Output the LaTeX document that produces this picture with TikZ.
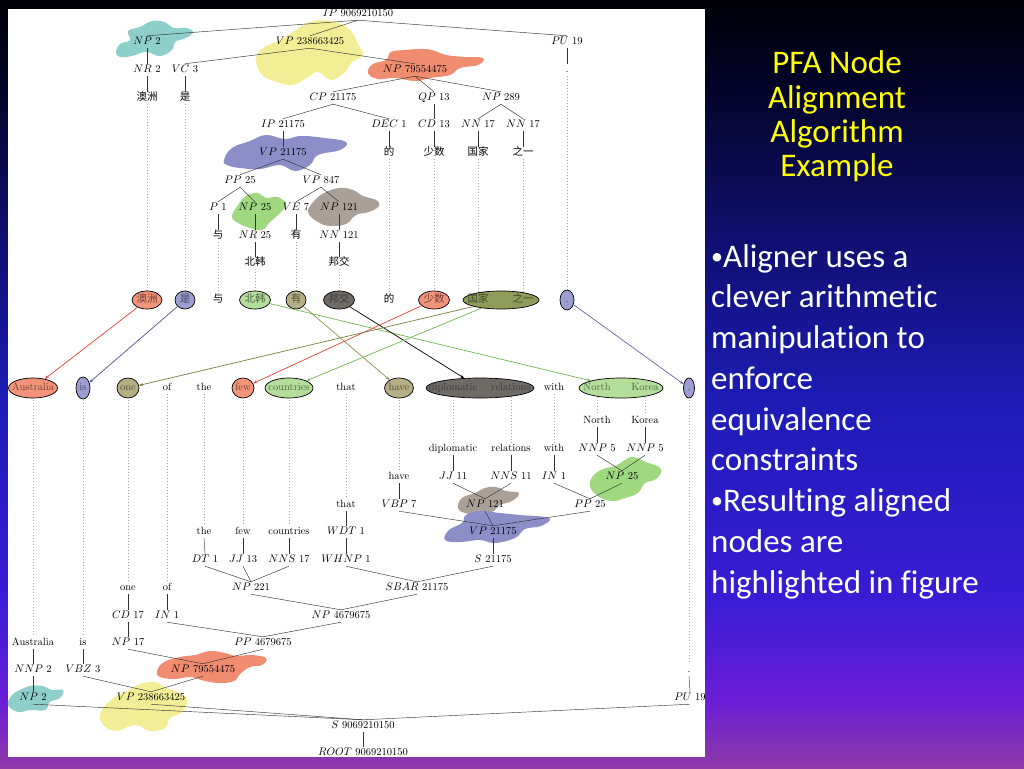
\documentclass[tikz,border=0pt]{standalone}
\usepackage{fontspec}
\newfontfamily\cjk{Noto Sans CJK SC}
\newfontfamily\calfont[Ligatures=NoCommon]{Carlito}
\usetikzlibrary{shapes.geometric,arrows.meta}
\definecolor{g0}{HTML}{8E3AA8}
\definecolor{g1}{HTML}{6A1ED5}
\definecolor{g2}{HTML}{3A1CD5}
\definecolor{g3}{HTML}{1C1CB5}
\definecolor{g4}{HTML}{101075}
\definecolor{g5}{HTML}{05052E}
\definecolor{g6}{HTML}{000008}
\pgfdeclareverticalshading{bgsh}{100bp}{color(0bp)=(g0); color(25bp)=(g0); color(29.4bp)=(g1); color(36bp)=(g2); color(49bp)=(g3); color(58.7bp)=(g4); color(68.5bp)=(g5); color(75bp)=(g6); color(100bp)=(g6)}
\definecolor{cSal}{HTML}{F3937A}
\definecolor{cPur}{HTML}{9D9DD2}
\definecolor{cGrn}{HTML}{B4DE9C}
\definecolor{cTan}{HTML}{B6AF86}
\definecolor{cDrk}{HTML}{6E6A66}
\definecolor{cOlv}{HTML}{8F9C5C}
\definecolor{bTeal}{HTML}{8FCFCB}
\definecolor{bYel}{HTML}{F3EE96}
\definecolor{bSal}{HTML}{F08C70}
\definecolor{bPur}{HTML}{8C8EC8}
\definecolor{bGrn}{HTML}{A0D880}
\definecolor{bTau}{HTML}{ABA097}
\definecolor{rRed}{HTML}{E2453A}
\definecolor{rBlu}{HTML}{52528E}
\definecolor{rGrn}{HTML}{72B852}
\definecolor{rOlv}{HTML}{8A9050}
\definecolor{rBrn}{HTML}{7C7C3C}
\definecolor{rPur}{HTML}{6464A8}
\definecolor{ttl}{HTML}{FFFF00}
\pgfdeclarelayer{back}
\pgfdeclarelayer{mid}
\pgfsetlayers{back,mid,main}
\newcommand\tedge[2]{\draw[edg] (#1.south) -- (#2.north);}
\newcommand\dotln[2]{\draw[dotst] (#1.south) -- (#2.north);}
\newcommand\bulsym{\raisebox{2.5pt}{\fontsize{24}{24}\selectfont •}}
\begin{document}
\begin{tikzpicture}[x=1pt,y=-1pt,
  t/.style={inner sep=1.5pt, text height=7pt, text depth=2pt, font=\fontsize{10.5}{12}\selectfont},
  c/.style={inner sep=1.5pt, text height=7pt, text depth=2pt, font=\cjk\fontsize{10.5}{12}\selectfont},
  al/.style={ellipse, draw=black, line width=0.7pt, inner sep=0pt},
  edg/.style={draw=black!80, line width=0.45pt},
  dotst/.style={draw=black!35, line width=0.5pt, dash pattern=on 1pt off 2pt},
  arr/.style={line width=0.7pt, -{Stealth[length=4pt,width=3pt]}},
  blob/.style={smooth cycle, tension=0.7},
  ttlst/.style={anchor=base, text=ttl, font=\calfont\fontsize{33}{34}\selectfont},
  bul/.style={anchor=base west, inner sep=0pt, text=white, font=\calfont\fontsize{33}{34}\selectfont}]
\useasboundingbox (0,0) rectangle (1024,768);
\begin{pgfonlayer}{back}
\shade[shading=bgsh] (0,0) rectangle (1024,768);
\fill[white] (8,9) rectangle (705,757);
\end{pgfonlayer}

% ---------- blobs ----------
\begin{pgfonlayer}{mid}
\fill[bTeal] plot[blob] coordinates {(116,52) (120,44) (130,40) (128,31) (140,27) (152,21) (164,22) (174,28) (186,28) (193,32) (186,38) (175,42) (172,50) (160,56) (146,52) (132,56) (120,57)};
\fill[bYel] plot[blob] coordinates {(262,75) (256,60) (263,48) (280,40) (296,30) (313,21) (335,22) (350,30) (358,44) (363,55) (352,62) (345,72) (331,80) (318,72) (305,79) (292,85) (277,82)};
\fill[bSal] plot[blob] coordinates {(368,73) (373,64) (386,60) (391,52) (405,50) (420,49) (432,50) (446,55) (466,57) (483,58) (478,65) (460,68) (450,75) (430,78) (415,81) (395,78) (378,79)};
\fill[bPur] plot[blob] coordinates {(224,160) (232,148) (250,141) (266,135) (285,139) (301,136) (325,138) (346,142) (340,150) (318,155) (310,165) (295,171) (280,165) (260,169) (240,168) (227,165)};
\fill[bGrn] plot[blob] coordinates {(232,217) (238,205) (246,196) (258,193) (266,198) (278,197) (286,205) (278,215) (270,222) (262,230) (250,228) (240,224)};
\fill[bTau] plot[blob] coordinates {(308,212) (315,200) (326,192) (340,188) (353,190) (363,196) (376,200) (379,206) (369,212) (356,215) (346,224) (330,226) (318,222)};
\fill[bGrn] plot[blob] coordinates {(590,486) (593,476) (603,469) (615,466) (625,460) (633,457) (646,462) (661,469) (656,479) (645,483) (638,493) (625,498) (612,501) (598,496)};
\fill[bTau] plot[blob] coordinates {(458,508) (462,498) (475,493) (485,488) (496,487) (506,491) (519,493) (512,501) (500,505) (492,512) (478,514) (465,513)};
\fill[bPur] plot[blob] coordinates {(445,540) (449,530) (462,523) (466,515) (480,511) (500,513) (520,515) (549,518) (541,526) (525,529) (515,538) (495,543) (480,540) (460,542)};
\fill[bSal] plot[blob] coordinates {(157,671) (164,662) (180,657) (195,655) (210,651) (225,653) (236,656) (251,655) (266,658) (262,665) (250,667) (240,674) (234,681) (220,683) (205,681) (190,677) (175,679) (160,677)};
\fill[bTeal] plot[blob] coordinates {(8,705) (12,695) (20,690) (30,686) (42,686) (52,690) (63,690) (60,698) (50,702) (45,710) (30,710) (18,712)};
\fill[bYel] plot[blob] coordinates {(101,712) (110,701) (119,695) (129,690) (140,684) (155,682) (166,688) (178,692) (187,700) (182,712) (170,718) (165,728) (150,731) (135,725) (115,731) (102,723)};
\end{pgfonlayer}

\begin{scope}
\clip (8,9) rectangle (705,757);
% ---------- Chinese tree ----------
\node[t] (zIP) at (358,14) {$IP$ 9069210150};
\node[t] (zNP2) at (147,42) {$NP$ 2};
\node[t] (zVP) at (310,42) {$VP$ 238663425};
\node[t] (zPU) at (567,42) {$PU$ 19};
\node[t] (zNR2) at (147,70) {$NR$ 2};
\node[t] (zVC) at (185,70) {$VC$ 3};
\node[t] (zNPb) at (415,70) {$NP$ 79554475};
\node[t] (zdot) at (567,70) {.};
\node[c] (zw1) at (147,98) {澳洲};
\node[c] (zw2) at (185,98) {是};
\node[t] (zCP) at (333,98) {$CP$ 21175};
\node[t] (zQP) at (434,98) {$QP$ 13};
\node[t] (zNP289) at (501,98) {$NP$ 289};
\node[t] (zIPb) at (283,125) {$IP$ 21175};
\node[t] (zDEC) at (389,125) {$DEC$ 1};
\node[t] (zCD) at (434,125) {$CD$ 13};
\node[t] (zNNa) at (478,125) {$NN$ 17};
\node[t] (zNNb) at (523,125) {$NN$ 17};
\node[t] (zVPb) at (283,153) {$VP$ 21175};
\node[c] (zw7) at (389,153) {的};
\node[c] (zw8) at (434,153) {少数};
\node[c] (zw9) at (478,153) {国家};
\node[c] (zw10) at (523,153) {之一};
\node[t] (zPP) at (240,181) {$PP$ 25};
\node[t] (zVPc) at (321,181) {$VP$ 847};
\node[t] (zP1) at (218,208) {$P$ 1};
\node[t] (zNP25) at (255,208) {$NP$ 25};
\node[t] (zVE) at (296,208) {$VE$ 7};
\node[t] (zNP121) at (339,208) {$NP$ 121};
\node[c] (zw3) at (218,236) {与};
\node[t] (zNR25) at (255,236) {$NR$ 25};
\node[c] (zw5) at (296,236) {有};
\node[t] (zNN121) at (339,236) {$NN$ 121};
\node[c] (zw4) at (255,263) {北韩};
\node[c] (zw6) at (339,263) {邦交};

\tedge{zIP}{zNP2} \tedge{zIP}{zVP} \tedge{zIP}{zPU}
\tedge{zNP2}{zNR2} \tedge{zVP}{zVC} \tedge{zVP}{zNPb} \tedge{zPU}{zdot}
\tedge{zNR2}{zw1} \tedge{zVC}{zw2}
\tedge{zNPb}{zCP} \tedge{zNPb}{zQP} \tedge{zNPb}{zNP289}
\tedge{zCP}{zIPb} \tedge{zCP}{zDEC} \tedge{zQP}{zCD} \tedge{zNP289}{zNNa} \tedge{zNP289}{zNNb}
\tedge{zIPb}{zVPb} \tedge{zDEC}{zw7} \tedge{zCD}{zw8} \tedge{zNNa}{zw9} \tedge{zNNb}{zw10}
\tedge{zVPb}{zPP} \tedge{zVPb}{zVPc}
\tedge{zPP}{zP1} \tedge{zPP}{zNP25} \tedge{zVPc}{zVE} \tedge{zVPc}{zNP121}
\tedge{zP1}{zw3} \tedge{zNP25}{zNR25} \tedge{zVE}{zw5} \tedge{zNP121}{zNN121}
\tedge{zNR25}{zw4} \tedge{zNN121}{zw6}

% ---------- alignment rows ----------
\node[al, fill=cSal, minimum width=30pt, minimum height=18pt] (a1) at (147,300) {};
\node[al, fill=cPur, minimum width=20pt, minimum height=18pt] (a2) at (185,300) {};
\node[al, fill=cGrn, minimum width=31pt, minimum height=18pt] (a4) at (255,300) {};
\node[al, fill=cTan, minimum width=20pt, minimum height=18pt] (a5) at (296,300) {};
\node[al, fill=cDrk, minimum width=31pt, minimum height=18pt] (a6) at (339,300) {};
\node[al, fill=cSal, minimum width=31pt, minimum height=18pt] (a8) at (434,300) {};
\node[al, fill=cOlv, minimum width=76pt, minimum height=18pt] (a9) at (501,300) {};
\node[al, fill=cPur, minimum width=14pt, minimum height=20pt] (a10) at (567,300) {};
\node[c, text=cSal!45!black] (a1t) at (147,300) {澳洲};
\node[c, text=cPur!45!black] (a2t) at (185,300) {是};
\node[c] (a3) at (218,300) {与};
\node[c, text=cGrn!45!black] (a4t) at (255,300) {北韩};
\node[c, text=cTan!45!black] (a5t) at (296,300) {有};
\node[c, text=cDrk!55!black] (a6t) at (339,300) {邦交};
\node[c] (a7) at (389,300) {的};
\node[c, text=cSal!45!black] (a8t) at (434,300) {少数};
\node[c, text=cOlv!45!black] (a9a) at (478,300) {国家};
\node[c, text=cOlv!45!black] (a9b) at (523,300) {之一};
\node[t, text=cPur!45!black] (a10t) at (567,300) {.};

\node[al, fill=cSal, minimum width=49pt, minimum height=20pt] (e1) at (33,388) {};
\node[al, fill=cPur, minimum width=14pt, minimum height=22pt] (e2) at (83,388) {};
\node[al, fill=cTan, minimum width=22pt, minimum height=20pt] (e3) at (128,388) {};
\node[al, fill=cSal, minimum width=22pt, minimum height=20pt] (e6) at (243,388) {};
\node[al, fill=cGrn, minimum width=48pt, minimum height=20pt] (e7) at (289,388) {};
\node[al, fill=cTan, minimum width=29pt, minimum height=20pt] (e9) at (399,388) {};
\node[al, fill=cDrk, minimum width=108pt, minimum height=20pt] (e10) at (480,388) {};
\node[al, fill=cGrn, minimum width=84pt, minimum height=20pt] (e12) at (621,388) {};
\node[al, fill=cPur, minimum width=11pt, minimum height=20pt] (e13) at (689,388) {};
\node[t, text=cSal!45!black] (e1t) at (33,388) {Australia};
\node[t, text=cPur!45!black] (e2t) at (83,388) {is};
\node[t, text=cTan!45!black] (e3t) at (128,388) {one};
\node[t] (e4) at (167,388) {of};
\node[t] (e5) at (204,388) {the};
\node[t, text=cSal!45!black] (e6t) at (243,388) {few};
\node[t, text=cGrn!45!black] (e7t) at (289,388) {countries};
\node[t] (e8) at (346,388) {that};
\node[t, text=cTan!45!black] (e9t) at (399,388) {have};
\node[t, text=cDrk!55!black] (e10a) at (453,388) {diplomatic};
\node[t, text=cDrk!55!black] (e10b) at (511,388) {relations};
\node[t] (e11) at (554,388) {with};
\node[t, text=cGrn!45!black] (e12a) at (597,388) {North};
\node[t, text=cGrn!45!black] (e12b) at (645,388) {Korea};
\node[t, text=cPur!45!black] (e13t) at (689,388) {.};

\draw[arr, rRed] (a1) -- (e1);
\draw[arr, rBlu] (a2) -- (e2);
\draw[arr, rGrn] (a4) -- (e12);
\draw[arr, rOlv] (a5) -- (e9);
\draw[arr, black] (a6) -- (e10);
\draw[arr, rRed] (a8) -- (e6);
\draw[arr, rBrn] (a9) -- (e3);
\draw[arr, rGrn] (a9) -- (e7);
\draw[arr, rPur] (a10) -- (e13);

% ---------- English tree ----------
\node[t] (bNorth) at (597,421) {North};
\node[t] (bKorea) at (645,421) {Korea};
\node[t] (bdipl) at (453,449) {diplomatic};
\node[t] (brel) at (511,449) {relations};
\node[t] (bwith) at (554,449) {with};
\node[t] (bNNPa) at (597,449) {$NNP$ 5};
\node[t] (bNNPb) at (645,449) {$NNP$ 5};
\node[t] (bhave) at (399,477) {have};
\node[t] (bJJa) at (453,477) {$JJ$ 11};
\node[t] (bNNSa) at (511,477) {$NNS$ 11};
\node[t] (bINa) at (554,477) {$IN$ 1};
\node[t] (bNP25) at (622,477) {$NP$ 25};
\node[t] (bthat) at (346,505) {that};
\node[t] (bVBP) at (399,505) {$VBP$ 7};
\node[t] (bNP121) at (485,505) {$NP$ 121};
\node[t] (bPP25) at (590,505) {$PP$ 25};
\node[t] (bthe) at (204,532) {the};
\node[t] (bfew) at (243,532) {few};
\node[t] (bcountries) at (289,532) {countries};
\node[t] (bWDT) at (346,532) {$WDT$ 1};
\node[t] (bVP) at (493,532) {$VP$ 21175};
\node[t] (bDT) at (205,560) {$DT$ 1};
\node[t] (bJJb) at (243,560) {$JJ$ 13};
\node[t] (bNNSb) at (289,560) {$NNS$ 17};
\node[t] (bWHNP) at (346,560) {$WHNP$ 1};
\node[t] (bS) at (493,560) {$S$ 21175};
\node[t] (bone) at (128,588) {one};
\node[t] (bof) at (167,588) {of};
\node[t] (bNP221) at (251,588) {$NP$ 221};
\node[t] (bSBAR) at (417,588) {$SBAR$ 21175};
\node[t] (bCD) at (128,616) {$CD$ 17};
\node[t] (bINb) at (167,616) {$IN$ 1};
\node[t] (bNPc) at (341,616) {$NP$ 4679675};
\node[t] (bAus) at (33,643) {Australia};
\node[t] (bis) at (83,643) {is};
\node[t] (bNP17) at (128,643) {$NP$ 17};
\node[t] (bPPc) at (263,643) {$PP$ 4679675};
\node[t] (bNNP) at (33,670) {$NNP$ 2};
\node[t] (bVBZ) at (83,670) {$VBZ$ 3};
\node[t] (bNPd) at (203,670) {$NP$ 79554475};
\node[t] (bdot) at (689,670) {.};
\node[t] (bNP2) at (33,698) {$NP$ 2};
\node[t] (bVPd) at (151,698) {$VP$ 238663425};
\node[t] (bPU) at (690,698) {$PU$ 19};
\node[t] (bSr) at (363,726) {$S$ 9069210150};
\node[t] (bROOT) at (363,753) {$ROOT$ 9069210150};

\tedge{bNorth}{bNNPa} \tedge{bKorea}{bNNPb}
\tedge{bdipl}{bJJa} \tedge{brel}{bNNSa} \tedge{bwith}{bINa}
\tedge{bNNPa}{bNP25} \tedge{bNNPb}{bNP25}
\tedge{bhave}{bVBP} \tedge{bJJa}{bNP121} \tedge{bNNSa}{bNP121}
\tedge{bINa}{bPP25} \tedge{bNP25}{bPP25}
\tedge{bthat}{bWDT}
\tedge{bVBP}{bVP} \tedge{bNP121}{bVP} \tedge{bPP25}{bVP}
\tedge{bthe}{bDT} \tedge{bfew}{bJJb} \tedge{bcountries}{bNNSb} \tedge{bWDT}{bWHNP} \tedge{bVP}{bS}
\tedge{bDT}{bNP221} \tedge{bJJb}{bNP221} \tedge{bNNSb}{bNP221}
\tedge{bWHNP}{bSBAR} \tedge{bS}{bSBAR}
\tedge{bone}{bCD} \tedge{bof}{bINb}
\tedge{bNP221}{bNPc} \tedge{bSBAR}{bNPc}
\tedge{bCD}{bNP17} \tedge{bINb}{bPPc} \tedge{bNPc}{bPPc}
\tedge{bAus}{bNNP} \tedge{bis}{bVBZ}
\tedge{bNP17}{bNPd} \tedge{bPPc}{bNPd}
\tedge{bNNP}{bNP2} \tedge{bVBZ}{bVPd} \tedge{bNPd}{bVPd} \tedge{bdot}{bPU}
\tedge{bNP2}{bSr} \tedge{bVPd}{bSr} \tedge{bPU}{bSr}
\tedge{bSr}{bROOT}
\end{scope}

% ---------- dotted word links ----------
\begin{pgfonlayer}{mid}
\dotln{zw1}{a1t} \dotln{zw2}{a2t} \dotln{zw3}{a3} \dotln{zw4}{a4t}
\dotln{zw5}{a5t} \dotln{zw6}{a6t} \dotln{zw7}{a7} \dotln{zw8}{a8t}
\dotln{zw9}{a9a} \dotln{zw10}{a9b} \dotln{zdot}{a10t}
\dotln{e1t}{bAus} \dotln{e2t}{bis} \dotln{e3t}{bone} \dotln{e4}{bof}
\dotln{e5}{bthe} \dotln{e6t}{bfew} \dotln{e7t}{bcountries} \dotln{e8}{bthat}
\dotln{e9t}{bhave} \dotln{e10a}{bdipl} \dotln{e10b}{brel} \dotln{e11}{bwith}
\dotln{e12a}{bNorth} \dotln{e12b}{bKorea} \dotln{e13t}{bdot}
\end{pgfonlayer}

% ---------- slide text ----------
\node[ttlst] (t1) at (837,74) {PFA Node};
\node[ttlst] (t2) at (837,108) {Alignment};
\node[ttlst] (t3) at (837,142) {Algorithm};
\node[ttlst] (t4) at (837,176) {Example};
\node[bul] (l1) at (711,267) {\bulsym Aligner uses a};
\node[bul] (l2) at (711,307) {clever arithmetic};
\node[bul] (l3) at (711,348) {manipulation to};
\node[bul] (l4) at (711,389) {enforce};
\node[bul] (l5) at (711,430) {equivalence};
\node[bul] (l6) at (711,470) {constraints};
\node[bul] (l7) at (711,511) {\bulsym Resulting aligned};
\node[bul] (l8) at (711,552) {nodes are};
\node[bul] (l9) at (711,593) {highlighted in figure};
\end{tikzpicture}
\end{document}
